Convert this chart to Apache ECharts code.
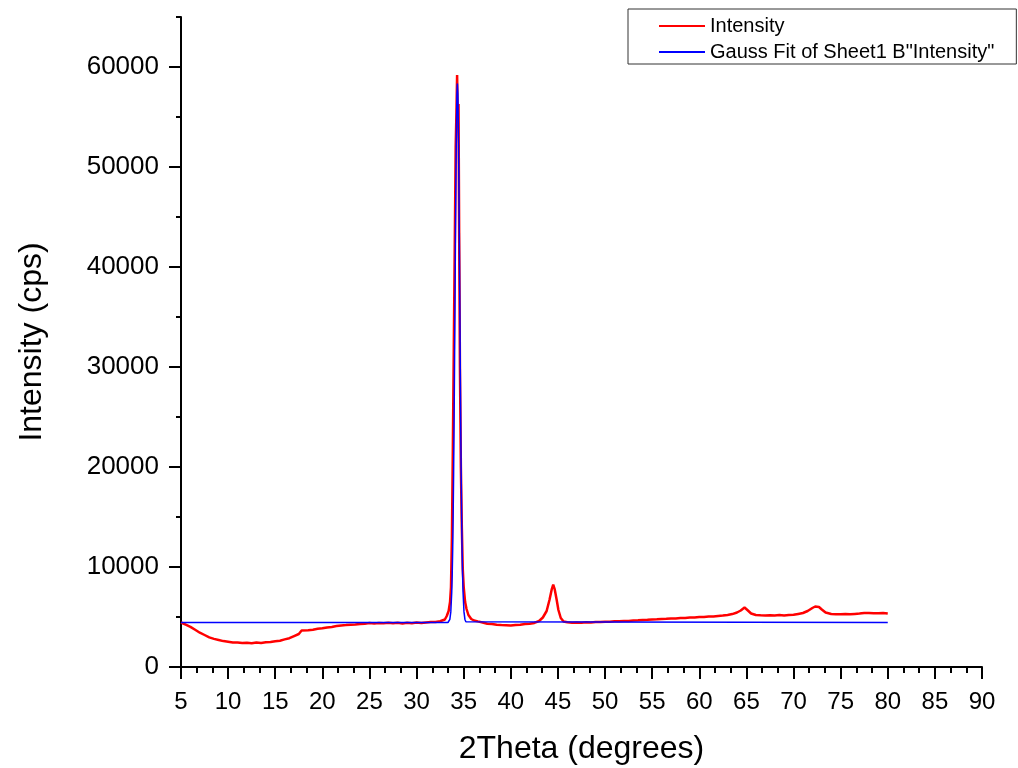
<!DOCTYPE html>
<html>
<head>
<meta charset="utf-8">
<script src="https://cdn.jsdelivr.net/npm/echarts@6/dist/echarts.min.js"></script>
<style>
html,body{margin:0;padding:0;background:#fff;}
#chart{width:1018px;height:768px;}
</style>
</head>
<body>
<div id="chart"></div>
<script>
const seriesNames = ['Intensity', 'Gauss Fit of Sheet1 B"Intensity"'];
const xAxisTitle = '2Theta (degrees)';
const yAxisTitle = 'Intensity (cps)';
const yMajorTicks = [0, 10000, 20000, 30000, 40000, 50000, 60000];

const intensityX = [5.0,5.5,6.0,6.5,7.0,7.5,8.0,8.5,9.0,9.5,10.0,10.5,11.0,11.5,12.0,12.5,13.0,13.5,14.0,14.5,15.0,15.5,16.0,16.5,17.0,17.5,17.8,18.0,18.5,19.0,19.5,20.0,20.5,21.0,21.5,22.0,22.5,23.0,23.5,24.0,24.5,25.0,25.5,26.0,26.5,27.0,27.5,28.0,28.5,29.0,29.5,30.0,30.5,31.0,31.5,32.0,32.5,33.0,33.2,33.4,33.55,33.65,33.75,33.85,33.95,34.05,34.15,34.23,34.3,34.38,34.45,34.52,34.6,34.7,34.8,34.9,35.0,35.15,35.3,35.5,35.8,36.1,36.5,37.0,37.5,38.0,38.5,39.0,39.5,40.0,40.5,41.0,41.5,42.0,42.5,43.0,43.4,43.8,44.1,44.35,44.5,44.65,44.85,45.05,45.3,45.6,46.0,46.5,47.0,47.5,48.0,48.5,49.0,49.5,50.0,50.5,51.0,51.5,52.0,52.5,53.0,53.5,54.0,54.5,55.0,55.5,56.0,56.5,57.0,57.5,58.0,58.5,59.0,59.5,60.0,60.5,61.0,61.5,62.0,62.5,63.0,63.5,64.0,64.4,64.8,65.1,65.5,66.0,66.5,67.0,67.5,68.0,68.5,69.0,69.5,70.0,70.5,71.0,71.5,72.0,72.3,72.7,73.0,73.4,74.0,74.5,75.0,75.5,76.0,76.5,77.0,77.5,78.0,78.5,79.0,79.5,80.0];
const intensityY = [4450,4230,4010,3720,3430,3200,2960,2810,2700,2590,2530,2460,2440,2390,2420,2380,2450,2410,2470,2490,2570,2630,2760,2880,3090,3300,3650,3600,3680,3720,3820,3870,3960,4010,4090,4160,4190,4230,4260,4310,4330,4390,4350,4410,4370,4430,4380,4420,4360,4430,4380,4440,4400,4460,4490,4510,4580,4750,5100,5600,6500,8000,13000,22000,32000,42000,52000,55500,59200,54000,56300,43000,30000,20000,14000,9800,8000,6500,5800,5200,4800,4650,4560,4450,4330,4290,4230,4190,4170,4140,4200,4220,4290,4320,4410,4600,4950,5600,6700,7800,8250,7800,6800,5700,4900,4550,4470,4420,4460,4420,4470,4440,4490,4490,4530,4530,4570,4570,4610,4610,4660,4670,4710,4720,4760,4770,4810,4820,4860,4860,4910,4910,4960,4960,5010,5010,5060,5060,5110,5140,5210,5290,5450,5650,5950,5700,5350,5200,5170,5160,5170,5140,5190,5160,5210,5220,5310,5400,5600,5900,6050,6000,5750,5450,5300,5270,5280,5290,5280,5310,5340,5390,5400,5370,5380,5410,5350];

const fitX = [5.0,33.33,33.43,33.53,33.63,33.73,33.78,33.83,33.88,33.93,33.98,34.03,34.08,34.13,34.18,34.23,34.28,34.33,34.38,34.43,34.48,34.53,34.58,34.63,34.68,34.73,34.78,34.83,34.88,34.93,35.03,35.13,35.23,35.33,80.0];
const fitY = [4440,4450,4520,4760,5510,7470,9230,11730,15110,19430,24670,30680,37130,43580,49460,54190,57270,58340,57270,54190,49460,43580,37130,30680,24670,19430,15110,11730,9230,7470,5510,4760,4520,4450,4440];

const FONT = '"Liberation Sans", Arial, sans-serif';

function pairs(xs, ys) { return xs.map((x, i) => [x, ys[i]]); }

const chart = echarts.init(document.getElementById('chart'), null, {renderer: 'canvas'});
chart.setOption({
  animation: false,
  backgroundColor: '#ffffff',
  grid: {left: 181, right: 36, top: 17, bottom: 101, containLabel: false, outerBoundsMode: 'none'},
  legend: {
    orient: 'vertical',
    left: 628,
    top: 9,
    icon: 'rect',
    itemWidth: 46,
    itemHeight: 2,
    itemGap: 6,
    padding: [7, 22, 2, 31],
    borderColor: '#333',
    borderWidth: 1,
    borderRadius: 0,
    textStyle: {fontFamily: FONT, fontSize: 20, color: '#000', lineHeight: 20},
    data: seriesNames
  },
  xAxis: {
    type: 'value',
    min: 5,
    max: 90,
    interval: 5,
    name: xAxisTitle,
    nameLocation: 'middle',
    nameGap: 66,
    nameTextStyle: {fontFamily: FONT, fontSize: 32, color: '#000'},
    axisLine: {show: true, onZero: false, lineStyle: {color: '#000', width: 2}},
    axisTick: {show: true, length: 12, lineStyle: {color: '#000', width: 2}},
    minorTick: {show: true, splitNumber: 3, length: 6, lineStyle: {color: '#000', width: 2}},
    axisLabel: {fontFamily: FONT, fontSize: 24, color: '#000', margin: 23},
    splitLine: {show: false}
  },
  yAxis: [{
    type: 'value',
    min: 0,
    max: 65000,
    interval: 10000,
    name: yAxisTitle,
    nameLocation: 'middle',
    nameGap: 133,
    nameTextStyle: {fontFamily: FONT, fontSize: 32, color: '#000'},
    axisLine: {show: true, onZero: false, lineStyle: {color: '#000', width: 2}},
    axisTick: {show: true, length: 12, customValues: yMajorTicks, lineStyle: {color: '#000', width: 2}},
    minorTick: {show: false},
    axisLabel: {fontFamily: FONT, fontSize: 26, color: '#000', margin: 22, customValues: yMajorTicks,
      formatter: function (v) { return String(v); }},
    splitLine: {show: false}
  }, {
    type: 'value',
    position: 'left',
    min: 0,
    max: 65000,
    interval: 5000,
    axisLine: {show: false},
    axisTick: {show: true, length: 5, lineStyle: {color: '#000', width: 2}},
    axisLabel: {show: false},
    splitLine: {show: false}
  }],
  series: [{
    name: seriesNames[0],
    type: 'line',
    symbol: 'none',
    data: pairs(intensityX, intensityY),
    lineStyle: {color: '#ff0000', width: 2.5},
    itemStyle: {color: '#ff0000'},
    z: 2
  }, {
    name: seriesNames[1],
    type: 'line',
    symbol: 'none',
    data: pairs(fitX, fitY),
    lineStyle: {color: '#0000ff', width: 1.5},
    itemStyle: {color: '#0000ff'},
    z: 3
  }]
});
</script>
</body>
</html>
